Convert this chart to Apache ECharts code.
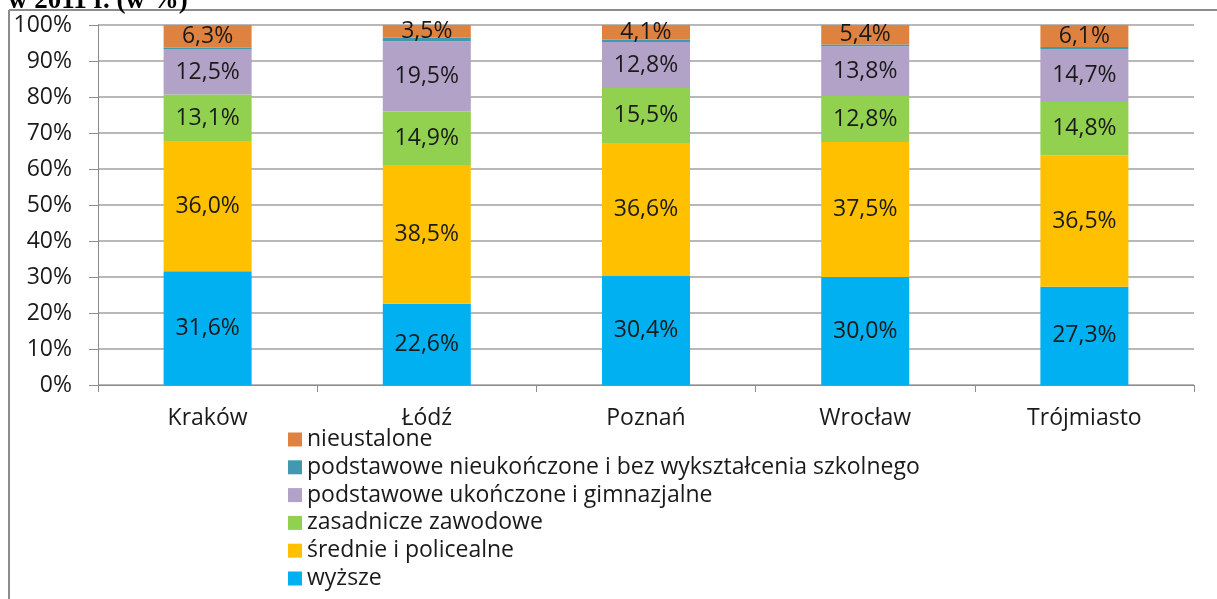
<!DOCTYPE html>
<html>
<head>
<meta charset="utf-8">
<script src="https://cdn.jsdelivr.net/npm/echarts@6/dist/echarts.min.js"></script>
<style>
  html, body { margin: 0; padding: 0; background: #fff; }
  #chart { width: 1217px; height: 599px; }
</style>
</head>
<body>
<div id="chart"></div>
<script>
const cities = ['Kraków', 'Łódź', 'Poznań', 'Wrocław', 'Trójmiasto'];
const wyzsze = [31.6, 22.6, 30.4, 30.0, 27.3];
const srednie = [36.0, 38.5, 36.6, 37.5, 36.5];
const zasadnicze = [13.1, 14.9, 15.5, 12.8, 14.8];
const podstUkonczone = [12.5, 19.5, 12.8, 13.8, 14.7];
const podstNieukonczone = [0.5, 1.0, 0.6, 0.5, 0.6];
const nieustalone = [6.3, 3.5, 4.1, 5.4, 6.1];
const yTicks = [0, 10, 20, 30, 40, 50, 60, 70, 80, 90, 100];

const font = '"Open Sans", sans-serif';
const fs = 23;
const chart = echarts.init(document.getElementById('chart'));

function mk(name, data, color, showLabel) {
    return {
        name: name,
        type: 'bar',
        stack: 'total',
        barWidth: 88,
        data: data,
        itemStyle: { color: color },
        label: {
            show: showLabel,
            position: 'inside',
            color: '#1a1a1a',
            fontFamily: font,
            fontSize: fs,
            formatter: p => p.value.toFixed(1).replace('.', ',') + '%'
        }
    };
}

const option = {
    animation: false,
    title: {
        text: 'w 2011 r. (w %)',
        left: 3,
        top: -17,
        textStyle: { fontFamily: '"Liberation Serif", serif', fontWeight: 'bold', fontSize: 27, color: '#000' }
    },
    graphic: [
        { type: 'line', shape: { x1: 9, y1: 10, x2: 1217, y2: 10 }, style: { stroke: '#8c8c8c', lineWidth: 2 } },
        { type: 'line', shape: { x1: 9, y1: 10, x2: 9, y2: 599 }, style: { stroke: '#8c8c8c', lineWidth: 2 } }
    ],
    grid: { left: 98, right: 23, top: 25, bottom: 214 },
    legend: {
        orient: 'vertical',
        left: 283,
        top: 423,
        height: 300,
        itemWidth: 14,
        itemHeight: 14,
        itemGap: 4.8,
        icon: 'rect',
        textStyle: { fontFamily: font, fontSize: fs, color: '#1a1a1a', lineHeight: 22 },
        data: ['nieustalone', 'podstawowe nieukończone i bez wykształcenia szkolnego',
            'podstawowe ukończone i gimnazjalne', 'zasadnicze zawodowe',
            'średnie i policealne', 'wyższe']
    },
    xAxis: {
        type: 'category',
        data: cities,
        axisLine: { lineStyle: { color: '#8c8c8c', width: 1 } },
        axisTick: { show: true, length: 7, lineStyle: { color: '#8c8c8c' } },
        axisLabel: { fontFamily: font, fontSize: fs, color: '#1a1a1a', margin: 22 }
    },
    yAxis: {
        type: 'value',
        min: yTicks[0],
        max: yTicks[yTicks.length - 1],
        interval: 10,
        axisLine: { show: true, lineStyle: { color: '#8c8c8c', width: 1 } },
        axisTick: { show: true, length: 9, lineStyle: { color: '#8c8c8c' } },
        axisLabel: { fontFamily: font, fontSize: fs, color: '#1a1a1a', margin: 26, formatter: '{value}%' },
        splitLine: { lineStyle: { color: '#a0a0a0', width: 1.5 } }
    },
    series: [
        mk('wyższe', wyzsze, '#00b0f0', true),
        mk('średnie i policealne', srednie, '#ffc000', true),
        mk('zasadnicze zawodowe', zasadnicze, '#92d050', true),
        mk('podstawowe ukończone i gimnazjalne', podstUkonczone, '#b3a2c7', true),
        mk('podstawowe nieukończone i bez wykształcenia szkolnego', podstNieukonczone, '#4298b0', false),
        mk('nieustalone', nieustalone, '#e0823f', true)
    ]
};
option && chart.setOption(option);
</script>
</body>
</html>
